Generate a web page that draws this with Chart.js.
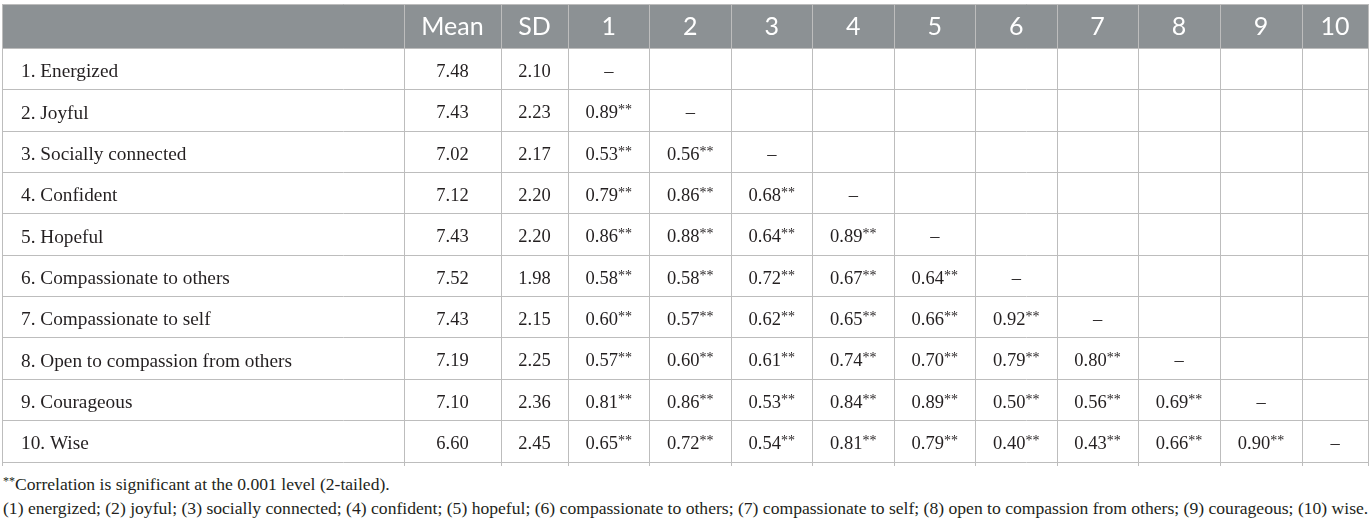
<!DOCTYPE html>
<html>
<head>
<meta charset="utf-8">
<script src="https://cdn.jsdelivr.net/npm/chart.js@4.4.1/dist/chart.umd.min.js"></script>
<style>
  html, body { margin: 0; padding: 0; background: #fff; }
  #wrap { position: relative; width: 1372px; height: 519px; }
  .note { position: absolute; left: 3px; font: 17.6px "Liberation Serif", serif; color: #231f20; white-space: nowrap; line-height: 20px; }
  .note sup { font-size: 12px; vertical-align: 5px; color: #231f20; }
</style>
</head>
<body>
<div id="wrap">
  <canvas id="table" width="1372" height="468"></canvas>
  <div class="note" style="top:471px"><sup>**</sup>Correlation is significant at the 0.001 level (2-tailed).</div>
  <div class="note" style="top:498px">(1) energized; (2) joyful; (3) socially connected; (4) confident; (5) hopeful; (6) compassionate to others; (7) compassionate to self; (8) open to compassion from others; (9) courageous; (10) wise.</div>
</div>
<script>
// Table content
var headers = ['Mean', 'SD', '1', '2', '3', '4', '5', '6', '7', '8', '9', '10'];
var items = ['1. Energized', '2. Joyful', '3. Socially connected', '4. Confident', '5. Hopeful',
  '6. Compassionate to others', '7. Compassionate to self', '8. Open to compassion from others',
  '9. Courageous', '10. Wise'];
var means = [7.48, 7.43, 7.02, 7.12, 7.43, 7.52, 7.43, 7.19, 7.10, 6.60];
var sds = [2.10, 2.23, 2.17, 2.20, 2.20, 1.98, 2.15, 2.25, 2.36, 2.45];
// lower triangle of the correlation matrix, all significant (**)
var corrRows = [
  [],
  [0.89],
  [0.53, 0.56],
  [0.79, 0.86, 0.68],
  [0.86, 0.88, 0.64, 0.89],
  [0.58, 0.58, 0.72, 0.67, 0.64],
  [0.60, 0.57, 0.62, 0.65, 0.66, 0.92],
  [0.57, 0.60, 0.61, 0.74, 0.70, 0.79, 0.80],
  [0.81, 0.86, 0.53, 0.84, 0.89, 0.50, 0.56, 0.69],
  [0.65, 0.72, 0.54, 0.81, 0.79, 0.40, 0.43, 0.66, 0.90]
];

// layout of the grid (axis units = pixels)
var colWidths = [402, 97, 67, 81.5, 81.5, 81.5, 81.5, 81.5, 81.5, 81, 82, 82, 66];
var headerHeight = 44.5;
var rowHeight = 41.35;

var colEdges = [0];
colWidths.forEach(function (w, i) { colEdges.push(colEdges[i] + w); });
var rowEdges = [0, headerHeight];
items.forEach(function (_, i) { rowEdges.push(rowEdges[i + 1] + rowHeight); });

function colCenter(c) { return (colEdges[c] + colEdges[c + 1]) / 2; }
function rowCenter(r) { return (rowEdges[r] + rowEdges[r + 1]) / 2; }

// build the cell points
var headerCells = headers.map(function (h, i) {
  return { x: colCenter(i + 1), y: rowCenter(0), text: h };
});
var labelCells = items.map(function (t, i) {
  return { x: 19, y: rowCenter(i + 1), text: t };
});
var meanCells = means.map(function (v, i) {
  return { x: colCenter(1), y: rowCenter(i + 1), text: v.toFixed(2) };
});
var sdCells = sds.map(function (v, i) {
  return { x: colCenter(2), y: rowCenter(i + 1), text: v.toFixed(2) };
});
var corrCells = [];
corrRows.forEach(function (row, i) {
  row.forEach(function (v, j) {
    corrCells.push({ x: colCenter(3 + j), y: rowCenter(i + 1), text: v.toFixed(2), sig: '**' });
  });
  corrCells.push({ x: colCenter(3 + i), y: rowCenter(i + 1), text: '\u2013' });
});

var serif = '"Liberation Serif", "Times New Roman", serif';

var tablePlugin = {
  id: 'tableCells',
  beforeDraw: function (chart) {
    var ctx = chart.ctx, xs = chart.scales.x, ys = chart.scales.y;
    var top = ys.getPixelForValue(rowEdges[0]);
    var bottom = ys.getPixelForValue(rowEdges[1]);
    ctx.save();
    ctx.fillStyle = '#8c9194';
    ctx.fillRect(xs.left, top, xs.right - xs.left, bottom - top);
    ctx.restore();
  },
  afterDatasetsDraw: function (chart) {
    var ctx = chart.ctx;
    chart.data.datasets.forEach(function (ds, i) {
      var meta = chart.getDatasetMeta(i);
      ctx.save();
      ctx.fillStyle = ds.textColor;
      ctx.textBaseline = 'middle';
      meta.data.forEach(function (pt, j) {
        var cell = ds.data[j];
        ctx.font = ds.textFont;
        var w = ctx.measureText(cell.text).width;
        var sw = 0;
        if (cell.sig) {
          ctx.font = '14px ' + serif;
          sw = ctx.measureText(cell.sig).width;
        }
        var x0 = ds.textAlign === 'left' ? pt.x : pt.x - (w + sw) / 2;
        var y0 = pt.y + ds.textShift;
        ctx.font = ds.textFont;
        ctx.textAlign = 'left';
        ctx.fillText(cell.text, x0, y0);
        if (cell.sig) {
          ctx.font = '14px ' + serif;
          ctx.fillText(cell.sig, x0 + w, y0 - 3);
        }
      });
      ctx.restore();
    });
  }
};

function cellSet(data, font, color, align, shift) {
  return {
    type: 'scatter',
    data: data,
    pointRadius: 0,
    pointHoverRadius: 0,
    textFont: font,
    textColor: color,
    textAlign: align,
    textShift: shift
  };
}

var canvas = document.getElementById('table');
var chart = new Chart(canvas, {
  type: 'scatter',
  data: {
    datasets: [
      cellSet(headerCells, '25px Lato, "Open Sans", sans-serif', '#ffffff', 'center', 1),
      cellSet(labelCells, '19.3px ' + serif, '#231f20', 'left', 3),
      cellSet(meanCells, '18.5px ' + serif, '#231f20', 'center', 3),
      cellSet(sdCells, '18.5px ' + serif, '#231f20', 'center', 3),
      cellSet(corrCells, '18.5px ' + serif, '#231f20', 'center', 3)
    ]
  },
  plugins: [tablePlugin],
  options: {
    responsive: false,
    animation: false,
    events: [],
    layout: { padding: { left: 2, right: 4, top: 4, bottom: 2 } },
    plugins: { legend: { display: false }, tooltip: { enabled: false } },
    scales: {
      x: {
        type: 'linear',
        position: 'bottom',
        min: 0,
        max: colEdges[colEdges.length - 1],
        afterBuildTicks: function (axis) {
          axis.ticks = colEdges.map(function (v) { return { value: v }; });
        },
        ticks: { display: false },
        grid: { color: '#bdbdbd', lineWidth: 1, drawTicks: true, tickLength: 4 },
        border: { display: false }
      },
      y: {
        type: 'linear',
        reverse: true,
        min: 0,
        max: rowEdges[rowEdges.length - 1],
        afterBuildTicks: function (axis) {
          axis.ticks = rowEdges.map(function (v) { return { value: v }; });
        },
        ticks: { display: false },
        grid: { color: '#bdbdbd', lineWidth: 1, drawTicks: false },
        border: { display: false }
      }
    }
  }
});
</script>
</body>
</html>
